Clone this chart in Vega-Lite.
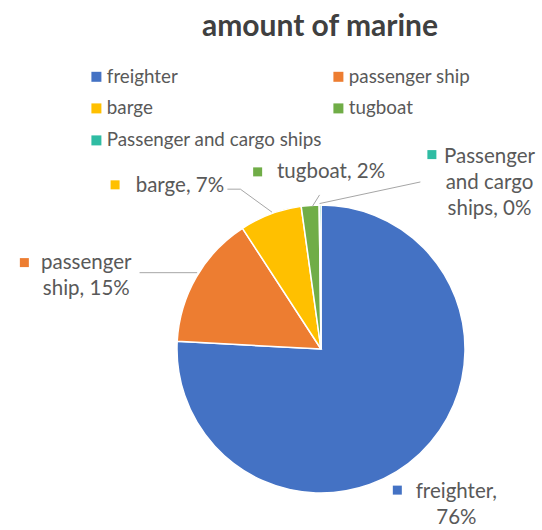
{
  "$schema": "https://vega.github.io/schema/vega-lite/v6.json",
  "width": 542,
  "height": 480,
  "autosize": {"type": "none"},
  "padding": {"top": 50, "left": 0, "right": 0, "bottom": 0},
  "background": "white",
  "title": {"text": "amount of marine", "fontSize": 30, "font": "Lato", "fontWeight": "bold", "color": "#404040", "anchor": "middle", "dx": 49, "offset": 8},
  "config": {"view": {"stroke": null}, "font": "Lato"},
  "datasets": {
    "shares": [
      {"type": "freighter", "share": 76, "rank": 1},
      {"type": "passenger ship", "share": 15, "rank": 2},
      {"type": "barge", "share": 7, "rank": 3},
      {"type": "tugboat", "share": 2, "rank": 4},
      {"type": "Passenger and cargo ships", "share": 0.2, "rank": 5}
    ],
    "labels": [
      {"type": "freighter", "label": "freighter,\n76%", "lx": 0.94, "ly": -0.99, "sx": 0.53, "sy": -0.98},
      {"type": "passenger ship", "label": "passenger\nship, 15%", "lx": -1.63, "ly": 0.6, "sx": -2.06, "sy": 0.6},
      {"type": "barge", "label": "barge, 7%", "lx": -0.98, "ly": 1.13, "sx": -1.43, "sy": 1.14},
      {"type": "tugboat", "label": "tugboat, 2%", "lx": 0.07, "ly": 1.23, "sx": -0.44, "sy": 1.23},
      {"type": "Passenger and cargo ships", "label": "Passenger\nand cargo\nships, 0%", "lx": 1.17, "ly": 1.33, "sx": 0.77, "sy": 1.35}
    ],
    "leaders": [
      {"x1": -1.26, "y1": 0.53, "x2": -0.86, "y2": 0.53},
      {"x1": -0.65, "y1": 1.11, "x2": -0.56, "y2": 1.11},
      {"x1": -0.56, "y1": 1.11, "x2": -0.34, "y2": 0.95},
      {"x1": -0.01, "y1": 1.07, "x2": -0.06, "y2": 0.99},
      {"x1": 0.69, "y1": 1.16, "x2": -0.01, "y2": 1.01}
    ]
  },
  "layer": [
    {
      "data": {"name": "shares"},
      "mark": {"type": "arc", "outerRadius": 144, "stroke": "white", "strokeWidth": 1.5},
      "encoding": {
        "x": {"datum": 0, "type": "quantitative", "scale": {"domain": [-2.22917, 1.53472], "nice": false, "zero": false}, "axis": null},
        "y": {"datum": 0, "type": "quantitative", "scale": {"domain": [-1.25694, 2.07639], "nice": false, "zero": false}, "axis": null},
        "theta": {"field": "share", "type": "quantitative", "stack": true},
        "order": {"field": "rank", "type": "quantitative"},
        "color": {
          "field": "type", "type": "nominal",
          "scale": {"domain": ["freighter", "passenger ship", "barge", "tugboat", "Passenger and cargo ships"], "range": ["#4472C4", "#ED7D31", "#FFC000", "#70AD47", "#2FBCA3"]},
          "legend": {"title": null, "orient": "none", "direction": "horizontal", "legendX": 87, "legendY": 17, "columns": 2, "symbolType": "square", "symbolSize": 100, "symbolStrokeWidth": 0, "labelFontSize": 18.8, "labelColor": "#595959", "labelFont": "Lato", "rowPadding": 12, "columnPadding": 7, "labelOffset": 1, "padding": 0, "labelLimit": 400}
        }
      }
    },
    {
      "data": {"name": "leaders"},
      "mark": {"type": "rule", "color": "#A6A6A6", "strokeWidth": 1},
      "encoding": {
        "x": {"field": "x1", "type": "quantitative"},
        "y": {"field": "y1", "type": "quantitative"},
        "x2": {"field": "x2"},
        "y2": {"field": "y2"}
      }
    },
    {
      "data": {"name": "labels"},
      "mark": {"type": "square", "size": 81, "opacity": 1, "filled": true},
      "encoding": {
        "x": {"field": "sx", "type": "quantitative"},
        "y": {"field": "sy", "type": "quantitative"},
        "color": {"field": "type", "type": "nominal"}
      }
    },
    {
      "data": {"name": "labels"},
      "mark": {"type": "text", "fontSize": 20.5, "lineHeight": 26, "lineBreak": "\n", "align": "center", "baseline": "middle", "color": "#595959", "font": "Lato"},
      "encoding": {
        "x": {"field": "lx", "type": "quantitative"},
        "y": {"field": "ly", "type": "quantitative"},
        "text": {"field": "label"}
      }
    }
  ]
}
